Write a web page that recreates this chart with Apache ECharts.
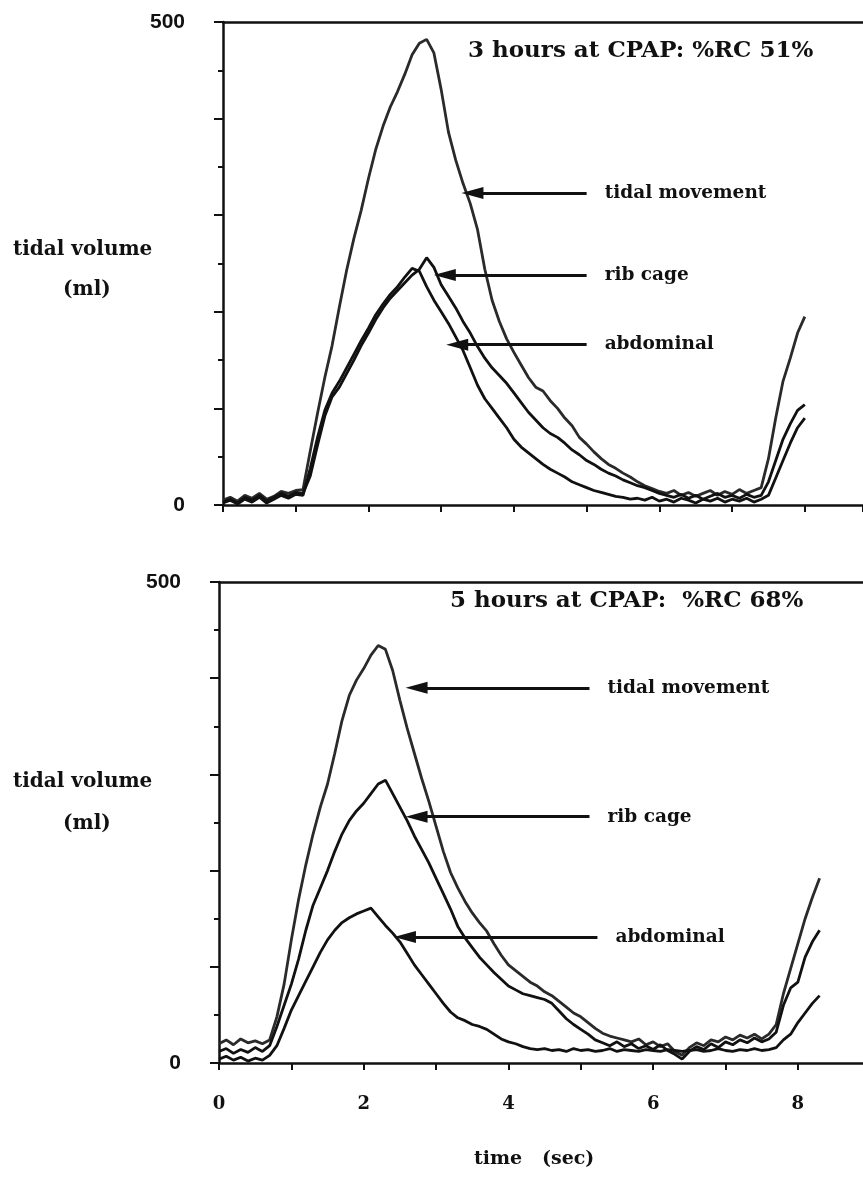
<!DOCTYPE html>
<html>
<head>
<meta charset="utf-8">
<script src="https://cdn.jsdelivr.net/npm/echarts@6/dist/echarts.min.js"></script>
<style>
  html, body { margin: 0; background: #fff; }
  #chart { width: 863px; height: 1178px; }
</style>
</head>
<body>
<div id="chart"></div>
<script>
// sample spacing of the traces (sec)
const STEP = 0.1;

// upper panel: 3 hours at CPAP, t = 0 .. 8.0 s
const topTidal = [5, 8, 4, 10, 7, 12, 6, 9, 14, 12, 15, 16,
  56, 95, 132, 165, 205, 243, 276, 305, 338, 368, 392, 412, 428, 446, 466, 478, 482,
  468, 430, 386, 357, 333, 312, 285, 244, 212, 190, 172, 158,
  145, 132, 122, 118, 108, 100, 90, 82, 70, 63,
  55, 48, 42, 38, 33, 29, 24, 20, 17, 14,
  12, 15, 10, 13, 9, 12, 15, 10, 14, 11,
  16, 12, 15, 18, 48, 90, 128, 152, 178, 195];
const topRib = [3, 6, 2, 8, 5, 10, 4, 8, 12, 9, 13, 12,
  30, 62, 92, 112, 122, 136, 150, 165, 178, 192, 204, 214, 222, 230, 238, 244, 256,
  246, 228, 216, 204, 190, 178, 164, 152, 142, 134, 126, 116,
  106, 96, 88, 80, 74, 70, 64, 57, 52, 46,
  42, 37, 33, 30, 26, 23, 20, 18, 15, 12,
  10, 8, 11, 7, 10, 6, 9, 12, 8, 10,
  7, 11, 8, 10, 24, 46, 68, 84, 98, 104];
const topAbd = [2, 5, 1, 6, 3, 8, 2, 6, 10, 7, 11, 10,
  38, 70, 98, 116, 128, 142, 156, 170, 183, 197, 208, 218, 226, 236, 245, 242, 226,
  212, 200, 188, 174, 160, 142, 124, 110, 100, 90, 80, 68,
  60, 54, 48, 42, 37, 33, 29, 24, 21, 18,
  15, 13, 11, 9, 8, 6, 7, 5, 8, 4,
  6, 3, 7, 5, 2, 6, 4, 7, 3, 6,
  4, 7, 3, 6, 10, 28, 46, 64, 80, 90];

// lower panel: 5 hours at CPAP, t = 0 .. 8.3 s
const botTidal = [20, 24, 19, 25, 21, 23, 20, 24,
  48, 82, 128, 170, 206, 238, 266, 290, 322, 356, 382, 398, 410, 424, 434,
  430, 408, 377, 348, 322, 296, 272, 246, 220, 198, 182, 168, 156,
  146, 137, 124, 112, 102, 96, 90, 84, 80, 74,
  70, 64, 58, 52, 48, 42, 36, 31, 28, 26,
  24, 22, 25, 19, 22, 17, 20, 12, 8, 16,
  21, 18, 24, 22, 27, 24, 29, 26, 30, 25, 30, 40,
  72, 98, 124, 150, 172, 192];
const botRib = [12, 15, 10, 14, 11, 16, 12, 18,
  38, 60, 82, 108, 138, 164, 182, 200, 220, 238, 252, 262, 270, 280, 290,
  294, 280, 266, 252, 236, 222, 208, 192, 176, 160, 142, 130, 120,
  110, 102, 94, 87, 80, 76, 72, 70, 68, 66,
  62, 54, 46, 40, 35, 30, 24, 21, 18, 22,
  17, 20, 15, 18, 14, 19, 13, 9, 4, 12,
  17, 14, 20, 16, 22, 19, 24, 21, 26, 22, 25, 32,
  60, 78, 84, 110, 126, 138];
const botAbd = [4, 7, 3, 6, 2, 5, 3, 8,
  18, 36, 55, 70, 85, 100, 115, 128, 138, 146, 151, 155, 158, 161, 152,
  143, 135, 126, 114, 102, 92, 82, 72, 62, 53, 47, 44, 40,
  38, 35, 30, 25, 22, 20, 17, 15, 14, 15,
  13, 14, 12, 15, 13, 14, 12, 13, 15, 12,
  14, 13, 12, 14, 13, 12, 14, 13, 12, 13,
  14, 12, 13, 15, 13, 12, 14, 13, 15, 13, 14, 16,
  24, 30, 42, 52, 62, 70];

const traceNames = ['tidal movement', 'rib cage', 'abdominal'];

// arrow tips [sec, ml] and the x where each arrow shaft ends
const topArrowTips = [[3.43, 323], [3.05, 238], [3.22, 166]];
const topArrowEnds = [5.0, 5.0, 5.0];
const botArrowTips = [[2.73, 390], [2.73, 256], [2.57, 131]];
const botArrowEnds = [5.12, 5.12, 5.23];

const panelTitles = ['3 hours at CPAP: %RC 51%', '5 hours at CPAP:  %RC 68%'];
const yTickLabels = [0, 500];
const xTickLabels = [0, 2, 4, 6, 8];

const INK = '#111';
const SERIF = 'DejaVu Serif';

const toPairs = vals => vals.map((v, i) => [+(i * STEP).toFixed(2), v]);

function makeSeries(name, vals, axis, tip, end, color) {
  return {
    name: name,
    type: 'line',
    xAxisIndex: axis,
    yAxisIndex: axis,
    data: toPairs(vals),
    showSymbol: false,
    silent: true,
    lineStyle: { color: color, width: 2.8 },
    markLine: {
      silent: true,
      animation: false,
      symbol: ['triangle', 'none'],
      symbolSize: [12, 22],
      lineStyle: { color: INK, width: 3, type: 'solid' },
      label: {
        show: true,
        position: 'end',
        distance: 18,
        formatter: name,
        color: INK,
        fontFamily: SERIF,
        fontWeight: 'bold',
        fontSize: 18.5
      },
      emphasis: { disabled: true },
      data: [[{ coord: tip }, { coord: [end, tip[1]] }]]
    }
  };
}

const axisLineStyle = { color: INK, width: 2.5 };

function mainX(i, max, showLabels) {
  return {
    gridIndex: i, type: 'value', min: 0, max: max, interval: 1,
    axisLine: { lineStyle: axisLineStyle },
    axisTick: { show: true, length: 7, lineStyle: { color: INK, width: 2 } },
    splitLine: { show: false },
    axisLabel: {
      show: showLabels, margin: 32, showMaxLabel: false,
      color: INK, fontFamily: SERIF, fontWeight: 'bold', fontSize: 18,
      formatter: v => xTickLabels.includes(v) ? String(v) : ''
    }
  };
}

function borderX(i, max) {
  return {
    gridIndex: i, type: 'value', position: 'top', min: 0, max: max,
    axisLine: { lineStyle: axisLineStyle },
    axisTick: { show: false }, axisLabel: { show: false }, splitLine: { show: false }
  };
}

function mainY(i) {
  return {
    gridIndex: i, type: 'value', min: 0, max: 500, interval: 100,
    axisLine: { show: true, lineStyle: axisLineStyle },
    axisTick: { show: true, length: 9, lineStyle: { color: INK, width: 2 } },
    minorTick: { show: true, splitNumber: 2, length: 5, lineStyle: { color: INK, width: 2 } },
    splitLine: { show: false },
    axisLabel: {
      margin: 38, color: INK, fontFamily: 'Liberation Sans', fontWeight: 'bold', fontSize: 21,
      formatter: v => yTickLabels.includes(v) ? String(v) : ''
    }
  };
}

const yNameStyle = { fill: INK, font: 'bold 20px "DejaVu Serif"' };
const titleStyle = { color: INK, fontFamily: SERIF, fontWeight: 'bold', fontSize: 23 };

const option = {
  animation: false,
  backgroundColor: '#fff',
  title: [
    { text: panelTitles[0], left: 468, top: 40, padding: 0, textStyle: titleStyle },
    { text: panelTitles[1], left: 450, top: 590, padding: 0, textStyle: titleStyle }
  ],
  grid: [
    { left: 223, top: 22, right: 0, height: 483 },
    { left: 219, top: 582, right: 0, height: 481 }
  ],
  xAxis: [mainX(0, 8.8, false), mainX(1, 8.9, true), borderX(0, 8.8), borderX(1, 8.9)],
  yAxis: [mainY(0), mainY(1)],
  graphic: [
    { type: 'text', left: 13, top: 240, style: Object.assign({ text: 'tidal volume' }, yNameStyle) },
    { type: 'text', left: 63, top: 280, style: Object.assign({ text: '(ml)' }, yNameStyle) },
    { type: 'text', left: 13, top: 772, style: Object.assign({ text: 'tidal volume' }, yNameStyle) },
    { type: 'text', left: 63, top: 814, style: Object.assign({ text: '(ml)' }, yNameStyle) },
    { type: 'text', left: 474, top: 1150, style: { text: 'time   (sec)', fill: INK, font: 'bold 19px "DejaVu Serif"' } }
  ],
  series: [
    makeSeries(traceNames[0], topTidal, 0, topArrowTips[0], topArrowEnds[0], '#2a2a2a'),
    makeSeries(traceNames[1], topRib, 0, topArrowTips[1], topArrowEnds[1], INK),
    makeSeries(traceNames[2], topAbd, 0, topArrowTips[2], topArrowEnds[2], INK),
    makeSeries(traceNames[0], botTidal, 1, botArrowTips[0], botArrowEnds[0], '#2a2a2a'),
    makeSeries(traceNames[1], botRib, 1, botArrowTips[1], botArrowEnds[1], INK),
    makeSeries(traceNames[2], botAbd, 1, botArrowTips[2], botArrowEnds[2], INK)
  ]
};

const chart = echarts.init(document.getElementById('chart'), null, { renderer: 'canvas' });
chart.setOption(option);
</script>
</body>
</html>
